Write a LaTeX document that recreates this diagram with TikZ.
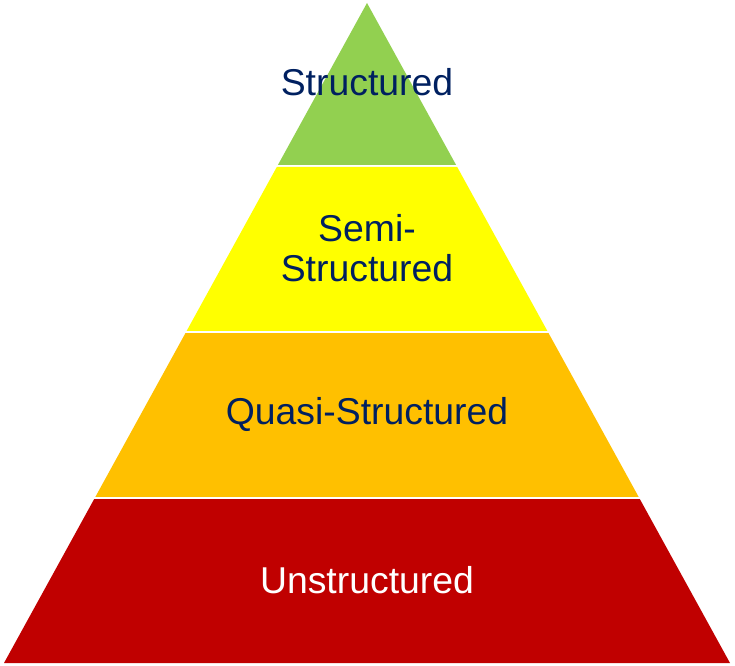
\documentclass[tikz,border=0pt]{standalone}
\usepackage{fontspec}
\setmainfont{Liberation Sans}
\usetikzlibrary{calc}
\definecolor{tiergreen}{HTML}{92D050}
\definecolor{tieryellow}{HTML}{FFFF00}
\definecolor{tierorange}{HTML}{FFC000}
\definecolor{tierred}{HTML}{C00000}
\definecolor{tiernavy}{HTML}{002060}
\begin{document}
\begin{tikzpicture}[
		x=1bp,
		y=-1bp,
		tier/.style={
				draw=none
			},
		tierlabel/.style={
				font=\fontsize{37.5}{40}\selectfont,
				text=tiernavy,
				align=center
			},
	]
	\useasboundingbox (0,0) rectangle (735,666);
	\coordinate (apex) at (367,3);
	\coordinate (bl) at (4,663);
	\coordinate (br) at (730,663);
	\fill [tier, tiergreen] (apex) -- ($(apex)!0.24545!(bl)$) -- ($(apex)!0.24545!(br)$) -- cycle;
	\fill [tier, tieryellow] ($(apex)!0.24848!(bl)$) -- ($(apex)!0.49697!(bl)$) -- ($(apex)!0.49697!(br)$) -- ($(apex)!0.24848!(br)$) -- cycle;
	\fill [tier, tierorange] ($(apex)!0.5!(bl)$) -- ($(apex)!0.74848!(bl)$) -- ($(apex)!0.74848!(br)$) -- ($(apex)!0.5!(br)$) -- cycle;
	\fill [tier, tierred] ($(apex)!0.75152!(bl)$) -- (bl) -- (br) -- ($(apex)!0.75152!(br)$) -- cycle;
	\node [tierlabel] (structured) at (367,82) {Structured};
	\node [tierlabel] (semi) at (367,248) {Semi-\\Structured};
	\node [tierlabel] (quasi) at (367,414) {Quasi-Structured};
	\node [tierlabel, text=white] (unstructured) at (367,580) {Unstructured};
\end{tikzpicture}
\end{document}
